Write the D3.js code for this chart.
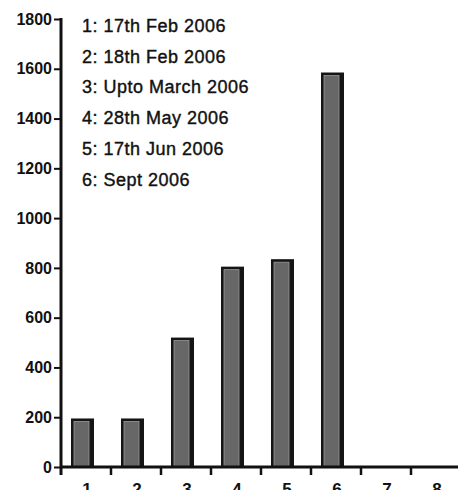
<!DOCTYPE html>
<html>
<head>
<meta charset="utf-8">
<script src="https://cdn.jsdelivr.net/npm/d3@7"></script>
<style>
  html, body { margin: 0; padding: 0; background: #fff; }
  svg { display: block; }
  text { font-family: "Liberation Sans", Arial, sans-serif; fill: #111; }
</style>
</head>
<body>
<script>
const categories = ["1", "2", "3", "4", "5", "6", "7", "8"];
const values = [195, 195, 520, 805, 835, 1585, null, null];
const yTicks = [0, 200, 400, 600, 800, 1000, 1200, 1400, 1600, 1800];
const legendLabels = [
  "1: 17th Feb 2006",
  "2: 18th Feb 2006",
  "3: Upto March 2006",
  "4: 28th May 2006",
  "5: 17th Jun 2006",
  "6: Sept 2006"
];

const W = 458, H = 490;
const svg = d3.select("body").append("svg").attr("width", W).attr("height", H);

const x = d3.scaleBand().domain(categories).range([61, 461]).padding(0);
const y = d3.scaleLinear().domain([0, 1800]).range([467, 19]);

// bars
const data = categories.map((c, i) => ({ c, v: values[i] })).filter(d => d.v != null);
const barOff = 10, barW = 23;
const g = svg.append("g");
g.selectAll("rect.outer").data(data).enter().append("rect")
  .attr("class", "outer")
  .attr("x", d => x(d.c) + barOff)
  .attr("y", d => y(d.v))
  .attr("width", barW)
  .attr("height", d => y(0) - y(d.v))
  .attr("fill", "#151515");
g.selectAll("rect.inner").data(data).enter().append("rect")
  .attr("class", "inner")
  .attr("x", d => x(d.c) + barOff + 3)
  .attr("y", d => y(d.v) + 3)
  .attr("width", barW - 8)
  .attr("height", d => y(0) - y(d.v) - 3)
  .attr("fill", "#676767")
  .attr("stroke", "#9a9a9a")
  .attr("stroke-width", 0.8);

// y axis
const yAxis = d3.axisLeft(y).tickValues(yTicks).tickSize(7).tickPadding(2).tickFormat(d3.format("d"));
const ya = svg.append("g").attr("transform", "translate(61,0)").call(yAxis);
ya.select(".domain").attr("stroke", "#111").attr("stroke-width", 3).attr("d", "M0,18V475");
ya.selectAll(".tick line").attr("stroke", "#111").attr("stroke-width", 2);
ya.selectAll(".tick text").style("font-size", "16px").style("font-weight", "bold").attr("fill", "#111");

// x axis
const xa = svg.append("g").attr("transform", "translate(0,467)");
xa.append("line").attr("x1", 60).attr("x2", 461).attr("y1", 0).attr("y2", 0)
  .attr("stroke", "#111").attr("stroke-width", 3);
xa.selectAll("line.tk").data(categories.slice(1)).enter().append("line")
  .attr("class", "tk")
  .attr("x1", d => x(d)).attr("x2", d => x(d))
  .attr("y1", 0).attr("y2", 8)
  .attr("stroke", "#111").attr("stroke-width", 2.5);
xa.selectAll("text").data(categories).enter().append("text")
  .attr("x", d => x(d) + x.bandwidth() / 2 + 1)
  .attr("y", 28)
  .attr("text-anchor", "middle")
  .style("font-size", "17px").style("font-weight", "bold")
  .text(d => d);

// legend
svg.append("g").selectAll("text").data(legendLabels).enter().append("text")
  .attr("x", 82)
  .attr("y", (d, i) => 32 + i * 30.7)
  .style("font-size", "18px")
  .style("letter-spacing", "0.5px")
  .attr("stroke", "#111").attr("stroke-width", 0.4)
  .text(d => d);
</script>
</body>
</html>
